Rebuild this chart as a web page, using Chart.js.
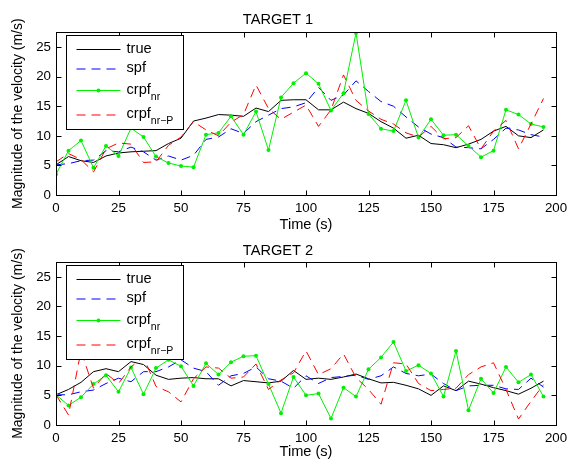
<!DOCTYPE html>
<html>
<head>
<meta charset="utf-8">
<script src="https://cdn.jsdelivr.net/npm/chart.js@4.4.0/dist/chart.umd.min.js"></script>
<style>
  body { margin: 0; background: #fff; }
  #wrap { position: relative; width: 573px; height: 465px; }
  canvas { position: absolute; left: 0; }
</style>
</head>
<body>
<div id="wrap">
  <canvas id="target1" width="573" height="232" style="top:0px"></canvas>
  <canvas id="target2" width="573" height="233" style="top:232px"></canvas>
</div>
<script>
// time axis (s)
const time = [0, 5, 10, 15, 20, 25, 30, 35, 40, 45, 50, 55, 60, 65, 70, 75, 80, 85, 90, 95,
              100, 105, 110, 115, 120, 125, 130, 135, 140, 145, 150, 155, 160, 165, 170, 175, 180, 185, 190, 195];
const xTicks = [0, 25, 50, 75, 100, 125, 150, 175, 200];
const yTicks = [0, 5, 10, 15, 20, 25];

// TARGET 1
const true1 = [5.1, 6.5, 5.8, 5.5, 6.6, 7.1, 7.3, 7.4, 7.5, 8.7, 9.6, 12.5, 13.0, 13.6, 13.5, 13.3, 14.7, 14.1, 16.0, 16.1,
               16.1, 14.4, 14.4, 15.7, 14.6, 13.8, 12.4, 11.3, 9.6, 10.1, 8.7, 8.5, 8.0, 8.6, 9.4, 10.8, 11.6, 10.0, 9.7, 11.0];
const spf1 = [5.1, 5.3, 5.8, 5.9, 7.5, 7.3, 8.1, 7.3, 5.9, 6.6, 5.9, 6.7, 9.4, 9.8, 11.2, 10.4, 12.4, 13.5, 14.6, 14.9,
              15.6, 18.2, 16.0, 16.9, 19.3, 17.5, 15.8, 15.0, 13.2, 11.5, 10.3, 9.7, 8.1, 8.0, 7.8, 9.4, 11.3, 11.0, 10.2, 9.8];
const crpf1 = [3.5, 7.5, 9.2, 4.6, 8.3, 6.6, 11.3, 9.8, 6.5, 5.4, 4.9, 4.7, 10.2, 10.5, 13.3, 10.2, 14.1, 7.6, 16.5, 18.9,
               20.6, 18.8, 14.3, 17.2, 27.4, 13.7, 11.2, 10.8, 16.0, 9.7, 12.8, 10.1, 10.2, 8.3, 6.4, 7.5, 14.4, 13.6, 12.0, 11.5];
const crpfP1 = [5.6, 7.0, 6.0, 3.9, 7.8, 8.8, 8.6, 5.5, 5.6, 8.4, 9.8, 12.4, 11.0, 10.0, 12.3, 13.6, 18.6, 14.6, 12.8, 14.0,
                15.2, 11.6, 14.4, 20.3, 16.0, 14.2, 12.8, 12.0, 10.5, 9.8, 11.6, 9.5, 9.7, 11.7, 7.8, 10.8, 12.6, 7.8, 12.0, 16.3];

// TARGET 2
const true2 = [5.1, 6.0, 7.2, 9.0, 9.5, 9.0, 10.7, 10.2, 8.4, 7.7, 7.9, 8.0, 7.8, 7.8, 6.6, 7.5, 7.3, 7.1, 7.4, 9.2,
               7.7, 7.9, 7.7, 8.1, 8.6, 7.8, 7.1, 7.2, 6.7, 6.1, 5.0, 6.6, 5.8, 7.4, 6.9, 6.3, 5.8, 5.2, 6.2, 7.4];
const spf2 = [5.1, 5.1, 5.6, 5.9, 7.0, 7.9, 7.3, 9.0, 9.0, 9.8, 11.0, 9.6, 9.0, 6.7, 8.3, 8.7, 9.8, 7.8, 7.4, 6.2,
              8.3, 7.0, 8.0, 8.2, 8.4, 7.7, 8.3, 9.8, 8.7, 8.3, 8.6, 7.0, 5.8, 6.6, 6.7, 6.7, 6.1, 6.0, 7.9, 6.4];
const crpf2 = [5.1, 3.3, 4.7, 6.9, 8.4, 5.6, 9.7, 5.2, 9.6, 11.0, 9.9, 6.6, 10.4, 8.5, 10.6, 11.6, 11.7, 6.9, 2.0, 8.1,
               5.0, 5.3, 1.1, 6.3, 4.8, 9.4, 11.4, 14.0, 9.1, 10.1, 8.7, 4.8, 12.5, 2.5, 7.8, 5.4, 9.8, 7.2, 8.5, 4.8];
const crpfP2 = [5.1, 1.7, 12.5, 6.2, 8.7, 7.0, 9.8, 11.5, 6.5, 5.6, 3.9, 7.8, 9.8, 9.6, 7.9, 8.1, 10.3, 6.0, 7.6, 8.8,
                12.5, 8.5, 9.5, 12.0, 8.0, 6.0, 3.5, 10.5, 10.3, 7.0, 5.8, 6.0, 6.2, 8.5, 9.8, 10.5, 6.0, 1.0, 4.0, 6.8];

const FONT = '"Liberation Sans", Arial, Helvetica, sans-serif';
Chart.defaults.font.family = FONT;
Chart.defaults.color = '#000';

function points(values) {
    return time.map((t, i) => ({ x: t, y: values[i] }));
}

// MATLAB-style box with inward ticks on all four sides
const frameTicks = {
    id: 'frameTicks',
    afterDraw(chart) {
        const { ctx, chartArea: a, scales: { x, y } } = chart;
        const L = Math.round(a.left) + 0.5, R = Math.round(a.right) + 0.5;
        const T = Math.round(a.top) + 0.5, B = Math.round(a.bottom) + 0.5;
        ctx.save();
        ctx.strokeStyle = '#000';
        ctx.lineWidth = 1;
        ctx.beginPath();
        x.ticks.forEach(t => {
            const px = Math.round(x.getPixelForValue(t.value)) + 0.5;
            ctx.moveTo(px, B); ctx.lineTo(px, B - 5);
            ctx.moveTo(px, T); ctx.lineTo(px, T + 5);
        });
        y.ticks.forEach(t => {
            const py = Math.round(y.getPixelForValue(t.value)) + 0.5;
            ctx.moveTo(L, py); ctx.lineTo(L + 5, py);
            ctx.moveTo(R, py); ctx.lineTo(R - 5, py);
        });
        ctx.stroke();
        ctx.strokeRect(L, T, R - L, B - T);
        ctx.restore();
    }
};

// legend box in the upper left corner, with subscripts
const boxLegend = {
    id: 'boxLegend',
    afterDraw(chart) {
        const { ctx, chartArea: a } = chart;
        const bx = Math.round(a.left + 10) + 0.5, by = Math.round(a.top + 3) + 0.5;
        const bw = 117, bh = 94;
        const rows = [14, 33.5, 55, 79.5];
        ctx.save();
        ctx.fillStyle = '#fff';
        ctx.fillRect(bx, by, bw, bh);
        ctx.strokeStyle = '#000';
        ctx.lineWidth = 1;
        ctx.strokeRect(bx, by, bw, bh);
        chart.data.datasets.forEach((ds, i) => {
            const yy = by + rows[i];
            ctx.strokeStyle = ds.borderColor;
            ctx.setLineDash(ds.borderDash || []);
            ctx.beginPath();
            ctx.moveTo(bx + 10, yy);
            ctx.lineTo(bx + 54, yy);
            ctx.stroke();
            ctx.setLineDash([]);
            if (ds.pointRadius > 0) {
                ctx.fillStyle = ds.borderColor;
                ctx.beginPath();
                ctx.arc(bx + 32, yy, ds.pointRadius, 0, Math.PI * 2);
                ctx.fill();
            }
            ctx.fillStyle = '#000';
            ctx.textBaseline = 'middle';
            ctx.font = '14.6px ' + FONT;
            ctx.fillText(ds.label, bx + 60, yy - 1);
            if (ds.sub) {
                const w = ctx.measureText(ds.label).width;
                ctx.font = '10.5px ' + FONT;
                ctx.fillText(ds.sub, bx + 60 + w, yy + 6.5);
            }
        });
        ctx.restore();
    }
};

function makeChart(id, title, vals, lay) {
    const ctx = document.getElementById(id).getContext('2d');
    return new Chart(ctx, {
        type: 'line',
        data: {
            datasets: [
                { label: 'true', data: points(vals[0]), borderColor: '#000000', borderWidth: 1, pointRadius: 0, order: 4 },
                { label: 'spf', data: points(vals[1]), borderColor: '#0000ff', borderWidth: 1, borderDash: [9, 6], pointRadius: 0, order: 3 },
                { label: 'crpf', sub: 'nr', data: points(vals[2]), borderColor: '#00f000', borderWidth: 1,
                  pointRadius: 2, pointBorderWidth: 0, pointBackgroundColor: '#00f000', order: 2 },
                { label: 'crpf', sub: 'nr\u2212P', data: points(vals[3]), borderColor: '#ff0000', borderWidth: 1, borderDash: [9, 6], pointRadius: 0, order: 1 }
            ]
        },
        options: {
            responsive: false,
            animation: false,
            layout: { padding: { left: 0, right: 17, top: 0, bottom: 0 } },
            elements: { line: { tension: 0 } },
            scales: {
                x: {
                    type: 'linear',
                    min: 0,
                    max: 200,
                    afterBuildTicks: scale => { scale.ticks = xTicks.map(v => ({ value: v })); },
                    afterFit: scale => { scale.height = lay.xHeight; },
                    grid: { display: false, drawTicks: false },
                    border: { display: false },
                    ticks: { padding: 5, font: { size: 13.3 }, color: '#000', maxRotation: 0 },
                    title: { display: true, text: 'Time (s)', font: { size: 14.6 }, color: '#000',
                             padding: { top: 0, bottom: lay.xTitlePad } }
                },
                y: {
                    type: 'linear',
                    min: 0,
                    max: 27.5,
                    afterBuildTicks: scale => { scale.ticks = yTicks.map(v => ({ value: v })); },
                    afterFit: scale => { scale.width = 56; },
                    grid: { display: false, drawTicks: false },
                    border: { display: false },
                    ticks: { padding: 5, font: { size: 13.3 }, color: '#000' },
                    title: { display: true, text: 'Magnitude of the velocity (m/s)', font: { size: 14 }, color: '#000',
                             padding: { top: 10, bottom: 0 } }
                }
            },
            plugins: {
                legend: { display: false },
                tooltip: { enabled: false },
                title: {
                    display: true,
                    text: title,
                    color: '#000',
                    font: { size: 14.6, weight: 'normal' },
                    padding: { top: lay.titleTop, bottom: lay.titleBottom }
                }
            }
        },
        plugins: [frameTicks, boxLegend]
    });
}

makeChart('target1', 'TARGET 1', [true1, spf1, crpf1, crpfP1],
          { xHeight: 37, xTitlePad: -1.8, titleTop: 11.4, titleBottom: 3.4 });
makeChart('target2', 'TARGET 2', [true2, spf2, crpf2, crpfP2],
          { xHeight: 40, xTitlePad: 4.6, titleTop: 10.3, titleBottom: 2.2 });
</script>
</body>
</html>
